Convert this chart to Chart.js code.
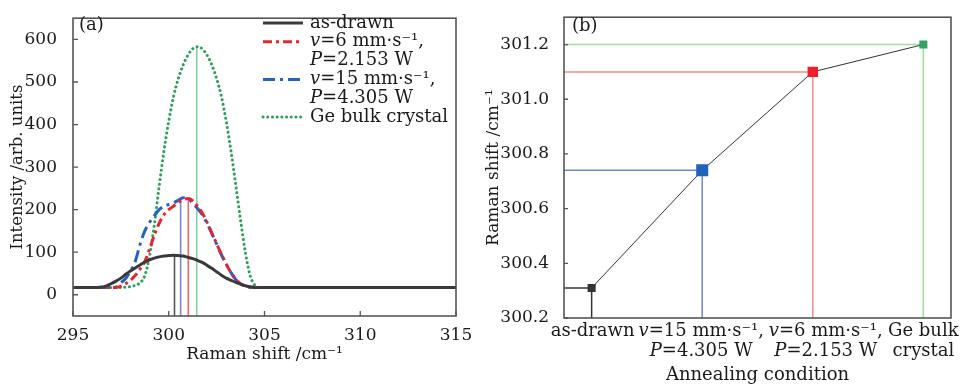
<!DOCTYPE html>
<html>
<head>
<meta charset="utf-8">
<script src="https://cdn.jsdelivr.net/npm/chart.js@4.4.0/dist/chart.umd.min.js"></script>
<style>
  body { margin: 0; background: #fff; }
  canvas { position: absolute; top: 0; }
</style>
</head>
<body>
<canvas id="ramanChart" width="480" height="386" style="left:0"></canvas>
<canvas id="shiftChart" width="484" height="386" style="left:480px"></canvas>
<script>
// (a) Raman spectra
const shifts = [295, 296, 296.25, 296.5, 296.75, 297, 297.25, 297.5, 297.75, 298,
  298.25, 298.5, 298.75, 299, 299.25, 299.5, 299.75, 300, 300.25, 300.5,
  300.75, 301, 301.25, 301.5, 301.75, 302, 302.25, 302.5, 302.75, 303,
  303.25, 303.5, 303.75, 304, 304.25, 304.5, 304.75, 305, 310, 315];
const asDrawn = [17, 17, 17, 18, 21, 26, 32, 39, 48, 56,
  63, 70, 77, 82, 86, 89, 91, 92, 93, 92,
  91, 88, 85, 81, 76, 69, 62, 54, 46, 39,
  34, 29, 25, 21, 18, 17, 17, 17, 17, 17];
const v6 = [17, 17, 17, 17, 17, 17, 17, 20, 26, 34,
  45, 60, 78, 108, 140, 168, 188, 200, 208, 217,
  223, 226, 221, 208, 192, 170, 145, 120, 95, 72,
  52, 36, 26, 20, 18, 17, 17, 17, 17, 17];
const v15 = [17, 17, 17, 17, 17, 17, 18, 28, 38, 55,
  78, 118, 150, 170, 186, 200, 208, 212, 216, 222,
  228, 225, 216, 203, 188, 168, 144, 119, 94, 72,
  52, 36, 26, 20, 18, 17, 17, 17, 17, 17];
const geBulk = [17, 17, 17, 17, 17, 17, 17, 17, 18, 19,
  22, 28, 45, 92, 165, 255, 338, 408, 466, 508,
  540, 563, 578, 583, 578, 563, 540, 508, 466, 408,
  338, 258, 175, 100, 45, 22, 17, 17, 17, 17];
const seriesNames = ['as-drawn', ['v=6 mm·s⁻¹,', 'P=2.153 W'], ['v=15 mm·s⁻¹,', 'P=4.305 W'], 'Ge bulk crystal'];
const peakShifts = [300.3, 300.62, 301.02, 301.46];
const peakHeights = [93, 226, 226, 583];
const shiftTicks = [295, 300, 305, 310, 315];
const intensityTicks = [0, 100, 200, 300, 400, 500, 600];

// (b) peak position vs annealing condition
const conditionLabels = [['as-drawn'], ['v=15 mm·s⁻¹,', 'P=4.305 W'], ['v=6 mm·s⁻¹,', 'P=2.153 W'], ['Ge bulk', 'crystal']];
const conditionShift = [300.31, 300.74, 301.10, 301.20];
const shiftTicksB = [300.2, 300.4, 300.6, 300.8, 301.0, 301.2];

const FONT = '"DejaVu Serif", serif';
const FS = 18;
const TICK_FS = 17;
const TXT = '#1a1a1a';

// draws a label, italic for a leading "v=" / "P="
function drawRich(ctx, text, x, y, align) {
  const normal = FS + 'px ' + FONT;
  const italic = 'italic ' + normal;
  const segs = /^[vP]=/.test(text) ? [[text[0], italic], [text.slice(1), normal]] : [[text, normal]];
  let w = 0;
  segs.forEach(s => { ctx.font = s[1]; w += ctx.measureText(s[0]).width; });
  let cx = align === 'center' ? x - w / 2 : x;
  ctx.textAlign = 'left';
  ctx.textBaseline = 'middle';
  ctx.fillStyle = TXT;
  segs.forEach(s => { ctx.font = s[1]; ctx.fillText(s[0], cx, y); cx += ctx.measureText(s[0]).width; });
}

function frameAndTicks(chart, tickLen) {
  const { ctx, chartArea: a, scales } = chart;
  ctx.save();
  ctx.strokeStyle = '#555';
  ctx.lineWidth = 1.6;
  ctx.strokeRect(a.left, a.top, a.right - a.left, a.bottom - a.top);
  ctx.lineWidth = 1.3;
  ctx.beginPath();
  if (tickLen.x) scales.x.ticks.forEach(t => {
    const px = scales.x.getPixelForValue(t.value);
    ctx.moveTo(px, a.bottom); ctx.lineTo(px, a.bottom - tickLen.x);
  });
  scales.y.ticks.forEach(t => {
    const py = scales.y.getPixelForValue(t.value);
    ctx.moveTo(a.left, py); ctx.lineTo(a.left + tickLen.y, py);
  });
  ctx.stroke();
  ctx.restore();
}

const ramanPlugin = {
  id: 'ramanDecor',
  afterDraw(chart) {
    frameAndTicks(chart, { x: 5, y: 5 });
    const ctx = chart.ctx;
    ctx.save();
    drawRich(ctx, '(a)', 79, 25, 'left');
    // legend
    const step = 18.8;
    let y = 23;
    chart.data.datasets.slice(0, 4).forEach((ds, i) => {
      ctx.save();
      ctx.strokeStyle = ds.borderColor;
      ctx.lineWidth = ds.borderWidth;
      ctx.lineCap = ds.borderCapStyle || 'butt';
      ctx.setLineDash(ds.borderDash || []);
      ctx.beginPath();
      ctx.moveTo(263, y); ctx.lineTo(303, y);
      ctx.stroke();
      ctx.restore();
      const lines = Array.isArray(seriesNames[i]) ? seriesNames[i] : [seriesNames[i]];
      lines.forEach(l => { drawRich(ctx, l, 310, y, 'left'); y += step; });
    });
    ctx.restore();
  }
};

const curveStyles = [
  { color: '#3a3a3a', dash: [], cap: 'butt' },
  { color: '#e6262d', dash: [9, 4, 3, 4], cap: 'butt' },
  { color: '#2262c6', dash: [12, 5, 3, 5], cap: 'butt' },
  { color: '#2f9f5c', dash: [0.1, 4.6], cap: 'round' }
];
const peakColors = ['#555555', '#7a86d6', '#f06a6a', '#7fd09a'];
const yMinA = -50;

const ramanDatasets = [asDrawn, v6, v15, geBulk].map((vals, i) => ({
  data: shifts.map((s, k) => ({ x: s, y: vals[k] })),
  borderColor: curveStyles[i].color,
  borderDash: curveStyles[i].dash,
  borderCapStyle: curveStyles[i].cap,
  borderWidth: 3,
  pointRadius: 0,
  cubicInterpolationMode: 'monotone',
  order: 1
}));
peakShifts.forEach((p, i) => ramanDatasets.push({
  data: [{ x: p, y: yMinA }, { x: p, y: peakHeights[i] }],
  borderColor: peakColors[i],
  borderWidth: 1.6,
  pointRadius: 0,
  order: 2
}));

new Chart(document.getElementById('ramanChart'), {
  type: 'line',
  data: { datasets: ramanDatasets },
  options: {
    responsive: false,
    animation: false,
    devicePixelRatio: 1,
    layout: { padding: { left: 0, right: 24, top: 7, bottom: 0 } },
    plugins: { legend: { display: false }, tooltip: { enabled: false } },
    scales: {
      x: {
        type: 'linear', min: 295, max: 315,
        afterBuildTicks: s => { s.ticks = shiftTicks.map(v => ({ value: v })); },
        afterFit: s => { s.height = 70; },
        grid: { display: false }, border: { display: false },
        ticks: { color: TXT, font: { family: FONT, size: TICK_FS }, padding: 1, maxRotation: 0 },
        title: { display: true, text: 'Raman shift /cm⁻¹', color: TXT, font: { family: FONT, size: 17 }, padding: { bottom: 21 } }
      },
      y: {
        min: yMinA, max: 650,
        afterBuildTicks: s => { s.ticks = intensityTicks.map(v => ({ value: v })); },
        afterFit: s => { s.width = 73; },
        grid: { display: false }, border: { display: false },
        ticks: { color: TXT, font: { family: FONT, size: TICK_FS }, padding: 8 },
        title: { display: true, text: 'Intensity /arb. units', color: TXT, font: { family: FONT, size: 16.5 }, padding: { top: 8 } }
      }
    }
  },
  plugins: [ramanPlugin]
});

// ---- (b) ----
const markerColors = ['#333333', '#1f62c0', '#e8222a', '#2fa35f'];
const markerRadius = [5.7, 8.5, 7.4, 5.7];
const dropColors = ['#333333', '#7388d2', '#f28b85', '#9fdc9a'];
const labelNudge = [1, -1, 13, 0];
const xMinB = -0.25, xMaxB = 3.25, yMinB = 300.2;

const shiftPlugin = {
  id: 'shiftDecor',
  afterDraw(chart) {
    frameAndTicks(chart, { x: 0, y: 4 });
    const ctx = chart.ctx;
    const xs = chart.scales.x;
    ctx.save();
    drawRich(ctx, '(b)', 92, 26, 'left');
    conditionLabels.forEach((lines, i) => {
      const px = xs.getPixelForValue(i) + labelNudge[i];
      lines.forEach((l, k) => drawRich(ctx, l, px, 331 + k * 20, 'center'));
    });
    ctx.restore();
  }
};

const shiftDatasets = conditionShift.map((v, i) => ({
  data: [{ x: xMinB, y: v }, { x: i, y: v }, { x: i, y: yMinB }],
  borderColor: dropColors[i],
  borderWidth: 1.5,
  pointRadius: 0,
  order: 2
}));
shiftDatasets.push({
  data: conditionShift.map((v, i) => ({ x: i, y: v })),
  borderColor: '#333',
  borderWidth: 1,
  pointStyle: 'rect',
  pointRadius: markerRadius,
  pointBackgroundColor: markerColors,
  pointBorderWidth: 0,
  order: 1
});

new Chart(document.getElementById('shiftChart'), {
  type: 'line',
  data: { datasets: shiftDatasets },
  options: {
    responsive: false,
    animation: false,
    devicePixelRatio: 1,
    layout: { padding: { left: 0, right: 13, top: 6, bottom: 0 } },
    plugins: { legend: { display: false }, tooltip: { enabled: false } },
    scales: {
      x: {
        type: 'linear', min: xMinB, max: xMaxB,
        afterFit: s => { s.height = 68; },
        grid: { display: false }, border: { display: false },
        ticks: { display: false },
        title: { display: true, text: 'Annealing condition', color: TXT, font: { family: FONT, size: FS }, padding: { bottom: 0 } }
      },
      y: {
        min: yMinB, max: 301.3,
        afterBuildTicks: s => { s.ticks = shiftTicksB.map(v => ({ value: v })); },
        afterFit: s => { s.width = 84; },
        grid: { display: false }, border: { display: false },
        ticks: { color: TXT, font: { family: FONT, size: TICK_FS }, padding: 7, callback: v => v.toFixed(1) },
        title: { display: true, text: 'Raman shift /cm⁻¹', color: TXT, font: { family: FONT, size: 17 }, padding: { top: 3 } }
      }
    }
  },
  plugins: [shiftPlugin]
});
</script>
</body>
</html>
